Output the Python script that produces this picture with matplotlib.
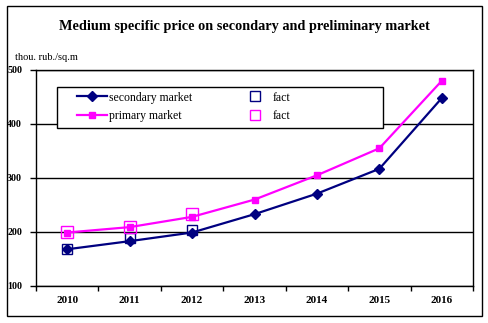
import numpy as np
import matplotlib.pyplot as plt
from matplotlib.lines import Line2D
from matplotlib.patches import Rectangle

# average specific price, thou. rub. per sq. m
years = ["2010", "2011", "2012", "2013", "2014", "2015", "2016"]
secondary = [168, 183, 199, 233, 271, 317, 448]
primary = [199, 209, 228, 260, 305, 355, 480]

# actual (fact) values for the first years
fact_years = ["2010", "2011", "2012"]
secondary_fact = [169, 188, 204]
primary_fact = [200, 209, 233]

NAVY = "#000080"
MAGENTA = "#FF00FF"

plt.rcParams['font.family'] = ['Liberation Serif', 'DejaVu Serif']

fig = plt.figure(figsize=(4.89, 3.23), dpi=100)
fig.patch.set_facecolor("white")

# outer frame of the chart
fig.patches.append(Rectangle((0.0143, 0.0217), 0.971, 0.960, transform=fig.transFigure,
                             fill=False, edgecolor="black", linewidth=1.0))

fig.text(0.5004, 0.9195, "Medium specific price on secondary and preliminary market",
         ha="center", va="center", fontsize=10.3, fontweight="bold")
fig.text(0.0307, 0.8235, "thou. rub./sq.m", ha="left", va="center", fontsize=7.5)

ax = fig.add_axes([0.0736, 0.1146, 0.8937, 0.6687])

x = np.arange(len(years))
xf = np.array([years.index(y) for y in fact_years])

ax.plot(x, secondary, color=NAVY, linewidth=1.6, marker="D", markersize=5.5, zorder=3)
ax.plot(x, primary, color=MAGENTA, linewidth=1.6, marker="s", markersize=5, zorder=3)
ax.plot(xf, secondary_fact, linestyle="none", marker="s", markersize=7.5,
        markerfacecolor="none", markeredgecolor=NAVY, markeredgewidth=1.0, zorder=4)
ax.plot(xf, primary_fact, linestyle="none", marker="s", markersize=9,
        markerfacecolor="none", markeredgecolor=MAGENTA, markeredgewidth=1.0, zorder=4)

ax.set_xlim(-0.5, len(years) - 0.5)
ax.set_ylim(100, 500)
ax.set_yticks([100, 200, 300, 400, 500])
ax.yaxis.grid(True, color="black", linewidth=1.0)
ax.set_axisbelow(True)

# ticks sit between categories, labels under the categories
ax.set_xticks(np.arange(-0.5, len(years)), labels=[""] * (len(years) + 1))
ax.set_xticks(x, labels=years, minor=True)
ax.tick_params(axis="x", which="major", direction="out", length=3.5, width=1.0)
ax.tick_params(axis="x", which="minor", length=0, pad=7, labelsize=8)
ax.tick_params(axis="y", direction="out", length=4, width=1.0, pad=6, labelsize=7.2)
for lab in ax.get_xticklabels(minor=True):
    lab.set_fontweight("bold")
for lab in ax.get_yticklabels():
    lab.set_fontweight("bold")
for sp in ax.spines.values():
    sp.set_linewidth(1.0)

# legend in a framed box
ax.add_patch(Rectangle((0.048, 0.731), 0.746, 0.19, transform=ax.transAxes,
                       facecolor="white", edgecolor="black", linewidth=1.0, zorder=5))
handles = [
    Line2D([], [], color=NAVY, linewidth=1.6, marker="D", markersize=5.5),
    Line2D([], [], color=MAGENTA, linewidth=1.6, marker="s", markersize=5),
    Line2D([], [], linestyle="none", marker="s", markersize=7, markerfacecolor="none",
           markeredgecolor=NAVY, markeredgewidth=1.0),
    Line2D([], [], linestyle="none", marker="s", markersize=7, markerfacecolor="none",
           markeredgecolor=MAGENTA, markeredgewidth=1.0),
]
leg = ax.legend(handles, ["secondary market", "primary market", "fact", "fact"],
                ncol=2, frameon=False, loc="upper left", bbox_to_anchor=(0.094, 0.9),
                fontsize=8.5, handlelength=2.5, handletextpad=0.2, columnspacing=4.1,
                labelspacing=0.55, borderaxespad=0, borderpad=0)
leg.set_zorder(6)

fig.savefig("out.png", dpi=100)
